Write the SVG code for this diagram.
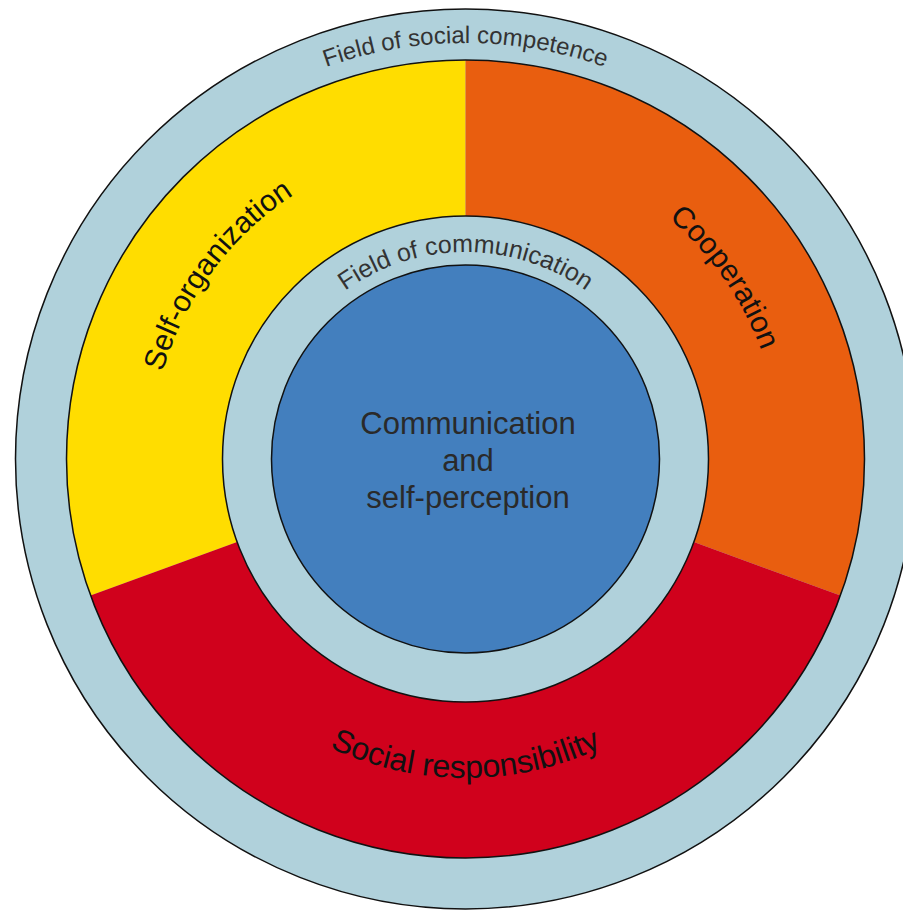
<svg xmlns="http://www.w3.org/2000/svg" xmlns:xlink="http://www.w3.org/1999/xlink" width="903" height="911" viewBox="0 0 903 911">
  <style>
    .ring { fill: #B0D1DB; stroke: #111; stroke-width: 1.5; }
    .edge { fill: none; stroke: #111; stroke-width: 1.5; }
    .field { font-family: "Liberation Sans", Arial, sans-serif; fill: #333; }
    .label { font-family: "Liberation Sans", Arial, sans-serif; font-size: 30px; fill: #111; }
    .center { font-family: "Liberation Sans", Arial, sans-serif; font-size: 31px; fill: #2a2a2a; text-anchor: middle; }
  </style>
  <defs>
    <path id="pOuter" d="M 49.5 459 A 416 416 0 0 1 881.5 459"/>
    <path id="pInner" d="M 258.5 459 A 207 207 0 0 1 672.5 459"/>
    <path id="pSelf" d="M 277.54 713.02 A 316 316 0 0 1 653.46 204.98"/>
    <path id="pCoop" d="M 284.25 200.15 A 316 316 0 0 1 646.75 717.85"/>
    <path id="pSocial" d="M 146.5 459 A 319 319 0 0 0 784.5 459"/>
  </defs>

  <g id="field-social-competence">
    <circle class="ring" cx="465.5" cy="459" r="450"/>
    <text class="field" font-size="24"><textPath xlink:href="#pOuter" startOffset="50%" text-anchor="middle">Field of social competence</textPath></text>
  </g>

  <g id="self-organization">
    <path d="M 90.56 595.47 A 399 399 0 0 1 465.5 60 L 465.5 216 A 243 243 0 0 0 237.15 542.11 Z" fill="#FFDD00"/>
    <text class="label"><textPath xlink:href="#pSelf" startOffset="50%" text-anchor="middle">Self-organization</textPath></text>
  </g>

  <g id="cooperation">
    <path d="M 465.5 60 A 399 399 0 0 1 840.44 595.47 L 693.85 542.11 A 243 243 0 0 0 465.5 216 Z" fill="#E95E0F"/>
    <text class="label"><textPath xlink:href="#pCoop" startOffset="50%" text-anchor="middle">Cooperation</textPath></text>
  </g>

  <g id="social-responsibility">
    <path d="M 840.44 595.47 A 399 399 0 0 1 90.56 595.47 L 237.15 542.11 A 243 243 0 0 0 693.85 542.11 Z" fill="#D0011C"/>
    <text class="label" font-size="32" style="font-size:32px"><textPath xlink:href="#pSocial" startOffset="50%" text-anchor="middle">Social responsibility</textPath></text>
  </g>

  <circle class="edge" cx="465.5" cy="459" r="399"/>

  <g id="field-communication">
    <circle class="ring" cx="465.5" cy="459" r="243"/>
    <text class="field" font-size="25"><textPath xlink:href="#pInner" startOffset="50%" text-anchor="middle">Field of communication</textPath></text>
  </g>

  <g id="communication-self-perception">
    <circle cx="465.5" cy="459" r="194" fill="#437FBE" stroke="#111" stroke-width="1.5"/>
    <text class="center" x="468" y="434">Communication</text>
    <text class="center" x="468" y="471">and</text>
    <text class="center" x="468" y="508">self-perception</text>
  </g>

  <g id="connectors"/>
</svg>
